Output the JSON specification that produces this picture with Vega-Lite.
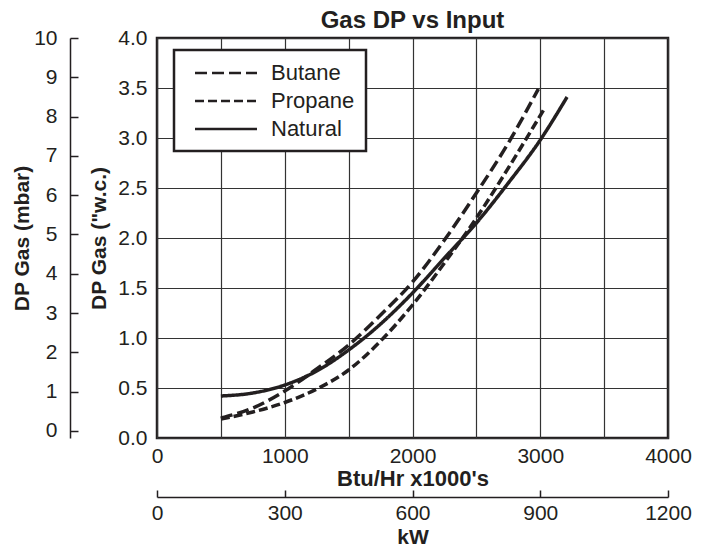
{
  "$schema": "https://vega.github.io/schema/vega-lite/v6.json",
  "width": 511,
  "height": 400,
  "autosize": {"type": "none"},
  "padding": {"left": 157, "top": 38, "right": 35, "bottom": 110},
  "background": "white",
  "title": {"text": "Gas DP vs Input", "fontSize": 24, "font": "Liberation Sans", "fontWeight": "bold", "color": "#231f20", "anchor": "middle", "frame": "group", "offset": -25, "baseline": "alphabetic"},
  "config": {
    "view": {"stroke": "#231f20", "strokeWidth": 2.5},
    "font": "Liberation Sans"
  },
  "datasets": {
    "curves": [
      {"gas": "Butane", "btu": 500, "wc": 0.2},
      {"gas": "Butane", "btu": 750, "wc": 0.3},
      {"gas": "Butane", "btu": 1000, "wc": 0.47},
      {"gas": "Butane", "btu": 1250, "wc": 0.69},
      {"gas": "Butane", "btu": 1500, "wc": 0.93},
      {"gas": "Butane", "btu": 1750, "wc": 1.23},
      {"gas": "Butane", "btu": 2000, "wc": 1.56},
      {"gas": "Butane", "btu": 2250, "wc": 1.98},
      {"gas": "Butane", "btu": 2500, "wc": 2.45},
      {"gas": "Butane", "btu": 2750, "wc": 2.95},
      {"gas": "Butane", "btu": 2985, "wc": 3.49},
      {"gas": "Propane", "btu": 500, "wc": 0.19},
      {"gas": "Propane", "btu": 750, "wc": 0.26},
      {"gas": "Propane", "btu": 1000, "wc": 0.355},
      {"gas": "Propane", "btu": 1250, "wc": 0.49},
      {"gas": "Propane", "btu": 1500, "wc": 0.68},
      {"gas": "Propane", "btu": 1750, "wc": 0.97},
      {"gas": "Propane", "btu": 2000, "wc": 1.33},
      {"gas": "Propane", "btu": 2250, "wc": 1.75},
      {"gas": "Propane", "btu": 2500, "wc": 2.2},
      {"gas": "Propane", "btu": 2750, "wc": 2.7},
      {"gas": "Propane", "btu": 3040, "wc": 3.31},
      {"gas": "Natural", "btu": 500, "wc": 0.42},
      {"gas": "Natural", "btu": 750, "wc": 0.45},
      {"gas": "Natural", "btu": 1000, "wc": 0.53},
      {"gas": "Natural", "btu": 1250, "wc": 0.67},
      {"gas": "Natural", "btu": 1500, "wc": 0.88},
      {"gas": "Natural", "btu": 1750, "wc": 1.14},
      {"gas": "Natural", "btu": 2000, "wc": 1.45},
      {"gas": "Natural", "btu": 2250, "wc": 1.8},
      {"gas": "Natural", "btu": 2500, "wc": 2.15},
      {"gas": "Natural", "btu": 2750, "wc": 2.55},
      {"gas": "Natural", "btu": 3000, "wc": 2.98},
      {"gas": "Natural", "btu": 3210, "wc": 3.41}
    ],
    "aux": [
      {"kw": 0, "mbar": 0},
      {"kw": 1200, "mbar": 10}
    ]
  },
  "layer": [
    {
      "data": {"name": "curves"},
      "mark": {"type": "line", "strokeWidth": 3.5, "color": "#231f20", "interpolate": "monotone"},
      "encoding": {
        "x": {
          "field": "btu", "type": "quantitative",
          "scale": {"domain": [0, 4000], "nice": false},
          "axis": {
            "orient": "bottom",
            "values": [0, 500, 1000, 1500, 2000, 2500, 3000, 3500, 4000],
            "format": "d",
            "labelExpr": "datum.value % 1000 === 0 ? datum.label : ''",
            "labelFlush": false,
            "grid": true, "gridColor": "#333333", "gridWidth": 1.2, "gridOpacity": 1,
            "ticks": false, "tickSize": 0, "domain": false,
            "labelFontSize": 21, "labelColor": "#231f20", "labelPadding": 7, "labelFont": "Liberation Sans",
            "title": "Btu/Hr x1000's", "titleFontSize": 22, "titleFontWeight": "bold", "titlePadding": 2, "titleColor": "#231f20", "titleFont": "Liberation Sans"
          }
        },
        "y": {
          "field": "wc", "type": "quantitative",
          "scale": {"domain": [0, 4], "nice": false},
          "axis": {
            "orient": "left",
            "values": [0, 0.5, 1, 1.5, 2, 2.5, 3, 3.5, 4],
            "format": ".1f",
            "grid": true, "gridColor": "#333333", "gridWidth": 1.2, "gridOpacity": 1,
            "ticks": false, "tickSize": 0, "domain": false,
            "labelFontSize": 21, "labelColor": "#231f20", "labelPadding": 10, "labelFont": "Liberation Sans",
            "title": "DP Gas (\"w.c.)", "titleFontSize": 21, "titleFontWeight": "bold", "titlePadding": 8, "titleColor": "#231f20", "titleFont": "Liberation Sans"
          }
        },
        "strokeDash": {
          "field": "gas", "type": "nominal",
          "scale": {"domain": ["Butane", "Propane", "Natural"], "range": [[12, 5], [9, 4], [1, 0]]},
          "legend": {
            "orient": "none", "legendX": 17, "legendY": 12,
            "title": null,
            "symbolType": "M-3,0H3", "symbolSize": 427, "symbolStrokeWidth": 2.5, "symbolStrokeColor": "#231f20",
            "symbolOffset": 29,
            "labelFontSize": 22, "labelColor": "#231f20", "labelOffset": 33, "labelFont": "Liberation Sans",
            "padding": 11, "rowPadding": 5,
            "fillColor": "white", "strokeColor": "#231f20",
            "encode": {"legend": {"update": {"strokeWidth": {"value": 2.5}}}}
          }
        }
      }
    },
    {
      "data": {"name": "aux"},
      "mark": {"type": "point", "opacity": 0},
      "encoding": {
        "x": {
          "field": "kw", "type": "quantitative",
          "scale": {"domain": [0, 1200], "nice": false},
          "axis": {
            "orient": "bottom", "offset": 59,
            "values": [0, 300, 600, 900, 1200],
            "format": "d",
            "labelFlush": false,
            "grid": false, "tickSize": -7, "tickWidth": 1.5, "tickColor": "#231f20",
            "domain": true, "domainColor": "#231f20", "domainWidth": 1.5,
            "labelFontSize": 21, "labelColor": "#231f20", "labelPadding": 12, "labelFont": "Liberation Sans",
            "title": "kW", "titleFontSize": 21, "titleFontWeight": "bold", "titlePadding": 3, "titleColor": "#231f20", "titleFont": "Liberation Sans"
          }
        },
        "y": {
          "field": "mbar", "type": "quantitative",
          "scale": {"domain": [-0.18, 10], "nice": false},
          "axis": {
            "orient": "left", "offset": 87,
            "values": [0, 1, 2, 3, 4, 5, 6, 7, 8, 9, 10],
            "grid": false, "tickSize": -8, "tickWidth": 1.5, "tickColor": "#231f20",
            "domain": true, "domainColor": "#231f20", "domainWidth": 1.5,
            "labelFontSize": 21, "labelColor": "#231f20", "labelPadding": 21, "labelFont": "Liberation Sans",
            "title": "DP Gas (mbar)", "titleFontSize": 21, "titleFontWeight": "bold", "titlePadding": 1, "titleColor": "#231f20", "titleFont": "Liberation Sans"
          }
        }
      }
    }
  ],
  "resolve": {
    "scale": {"x": "independent", "y": "independent", "strokeDash": "independent"},
    "axis": {"x": "independent", "y": "independent"}
  }
}
